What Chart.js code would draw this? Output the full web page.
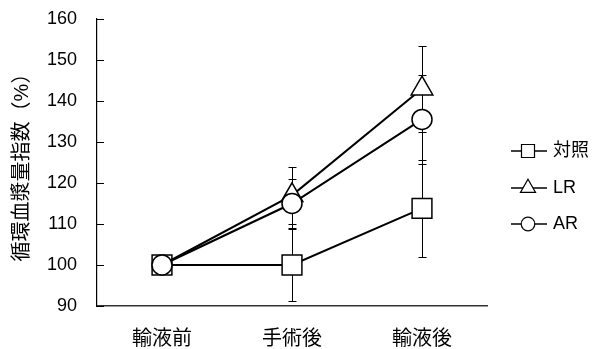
<!DOCTYPE html>
<html>
<head>
<meta charset="utf-8">
<script src="https://cdn.jsdelivr.net/npm/chart.js@4/dist/chart.umd.min.js"></script>
<style>
html, body { margin: 0; padding: 0; background: #fff; }
canvas { display: block; }
</style>
</head>
<body>
<canvas id="c" width="592" height="349"></canvas>
<script>
// Data.
const categories = ['輸液前', '手術後', '輸液後'];
const seriesNames = ['対照', 'LR', 'AR'];
const controlValues = [100, 100, 113.8];
const controlErrors = [0, 8.7, 11.9];
const lrValues = [100, 117, 143];
const lrErrors = [0, 7, 10.5];
const arValues = [100, 115, 135.5];
const arErrors = [0, 6, 10.8];
const yMin = 90, yMax = 160, yStep = 10;
const yTitle = '循環血漿量指数（%）';

const font = "'Liberation Sans', 'Noto Sans CJK JP', sans-serif";
const ink = '#000';

// Vertical error bars with small caps, drawn under the lines and markers.
const errorBars = {
    id: 'error-bars',
    beforeDatasetsDraw(chart) {
        const {ctx} = chart, y = chart.scales.y;
        ctx.save();
        ctx.strokeStyle = ink;
        ctx.lineWidth = 1;
        for (const [i, ds] of chart.data.datasets.entries()) {
            const md = chart.getDatasetMeta(i);
            for (const [j, pt] of md.data.entries()) {
                const e = ds.errors[j];
                if (!e) continue;
                const v = ds.data[j];
                const x = Math.round(pt.x) + 0.5;
                const lo = Math.round(y.getPixelForValue(v - e)) + 0.5;
                const hi = Math.round(y.getPixelForValue(v + e)) + 0.5;
                ctx.beginPath();
                ctx.moveTo(x, lo); ctx.lineTo(x, hi);
                ctx.moveTo(x - 4, lo); ctx.lineTo(x + 4, lo);
                ctx.moveTo(x - 4, hi); ctx.lineTo(x + 4, hi);
                ctx.stroke();
            }
        }
        ctx.restore();
    },
};

// Tick marks on the y axis point into the plot area.
const innerTicks = {
    id: 'inner-ticks',
    afterDraw(chart) {
        const {ctx} = chart, y = chart.scales.y;
        const x0 = chart.chartArea.left;
        ctx.save();
        ctx.strokeStyle = ink;
        ctx.lineWidth = 1;
        ctx.beginPath();
        for (const t of y.ticks) {
            const py = Math.round(y.getPixelForValue(t.value)) + 0.5;
            ctx.moveTo(x0, py);
            ctx.lineTo(x0 + 7, py);
        }
        ctx.stroke();
        ctx.restore();
    },
};

// Legend on the right: a short line through a small marker, then the name.
const sideLegend = {
    id: 'side-legend',
    afterDraw(chart) {
        const {ctx} = chart;
        const rows = [151, 188, 224];
        const sizes = {rect: 9.2, triangle: 8.7, circle: 6.8};
        ctx.save();
        for (const [i, ds] of chart.data.datasets.entries()) {
            const ly = rows[i];
            ctx.strokeStyle = ink;
            ctx.lineWidth = 1.5;
            ctx.beginPath();
            ctx.moveTo(511, ly); ctx.lineTo(547, ly);
            ctx.stroke();
            ctx.fillStyle = '#fff';
            ctx.lineWidth = 1.2;
            Chart.helpers.drawPoint(ctx, {
                pointStyle: ds.pointStyle, radius: sizes[ds.pointStyle],
                borderWidth: 1.2, rotation: 0,
            }, 528, ly);
            ctx.fillStyle = ink;
            ctx.font = `18px ${font}`;
            ctx.textBaseline = 'middle';
            ctx.textAlign = 'left';
            ctx.fillText(ds.label, 553, ly);
        }
        ctx.restore();
    },
};

function series(label, data, errors, pointStyle, radius, order) {
    return {
        label, data, errors, pointStyle, order,
        pointRadius: radius, pointHoverRadius: radius,
        borderColor: ink, borderWidth: 2,
        pointBackgroundColor: '#fff', pointBorderColor: ink,
        pointBorderWidth: 1.5, fill: false, tension: 0,
    };
}

new Chart(document.getElementById('c'), {
    type: 'line',
    data: {
        labels: categories,
        datasets: [
            series(seriesNames[0], controlValues, controlErrors, 'rect', 14, 3),
            // The first triangle sits hidden behind the circle and square.
            series(seriesNames[1], lrValues, lrErrors, 'triangle',
                   [0, 12.5, 12.5], 2),
            series(seriesNames[2], arValues, arErrors, 'circle', 10, 1),
        ],
    },
    plugins: [errorBars, innerTicks, sideLegend],
    options: {
        responsive: false,
        animation: false,
        events: [],
        layout: {padding: {top: 19, right: 105, bottom: 0, left: 0}},
        scales: {
            x: {
                offset: true,
                grid: {display: false, drawTicks: false},
                border: {display: true, color: '#333', width: 1.5},
                ticks: {color: ink, font: {family: font, size: 20}, padding: 21},
                afterFit: s => { s.height = 43; },
            },
            y: {
                min: yMin, max: yMax,
                grid: {display: false, drawTicks: false},
                border: {display: true, color: ink, width: 1.2},
                ticks: {
                    stepSize: yStep, color: ink, padding: 20,
                    font: {family: font, size: 18},
                },
                title: {
                    display: true, text: yTitle, color: ink,
                    font: {family: font, size: 20},
                    padding: {top: 10, bottom: 0},
                },
                // Fixed width; label overhang must not push the plot down.
                afterFit: s => {
                    s.width = 97;
                    s.paddingTop = 0;
                    s.paddingBottom = 0;
                },
            },
        },
        plugins: {
            legend: {display: false},
            tooltip: {enabled: false},
        },
    },
});
</script>
</body>
</html>
